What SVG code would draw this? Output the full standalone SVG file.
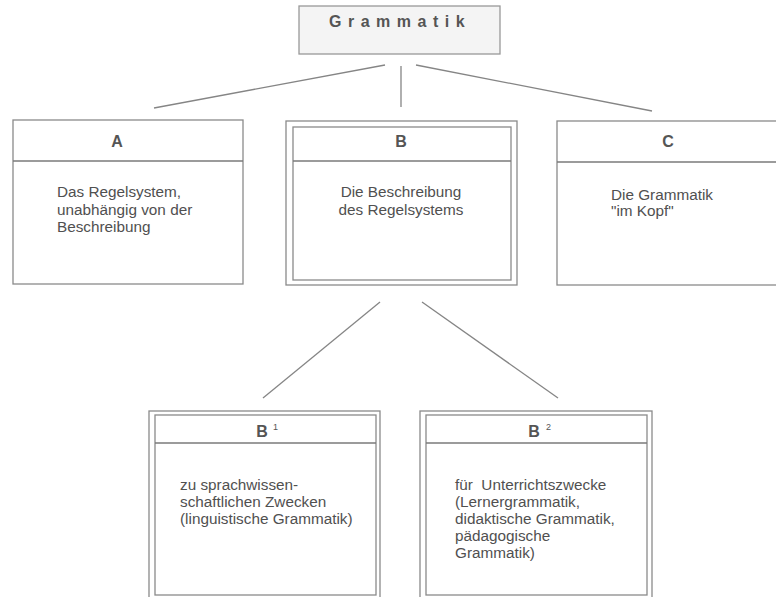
<svg xmlns="http://www.w3.org/2000/svg" width="776" height="597" viewBox="0 0 776 597">
<style>
.box{fill:none;stroke:#8a8a8a;stroke-width:1.3}
.div{stroke:#7a7a7a;stroke-width:1.3}
.con{stroke:#858585;stroke-width:1.3;fill:none}
.hd{font-family:"Liberation Sans",Arial,sans-serif;font-size:16px;font-weight:bold;fill:#555;text-anchor:middle}
.sup{font-family:"Liberation Sans",Arial,sans-serif;font-size:9px;fill:#555}
.tx{font-family:"Liberation Sans",Arial,sans-serif;font-size:15.3px;fill:#505050}
</style>
<rect width="776" height="597" fill="#ffffff"/>
<g id="connectors">
<line class="con" x1="385" y1="65" x2="154" y2="108"/>
<line class="con" x1="401" y1="66" x2="401" y2="107"/>
<line class="con" x1="416" y1="65" x2="652" y2="111"/>
<line class="con" x1="380" y1="302" x2="263" y2="398"/>
<line class="con" x1="422" y1="302" x2="558" y2="398"/>
</g>
<g id="grammatik">
<rect x="299" y="6" width="201" height="48" fill="#f4f4f4" stroke="#999" stroke-width="1.3"/>
<text x="329" y="27" font-family="'Liberation Sans',Arial,sans-serif" font-size="16" font-weight="bold" fill="#555" letter-spacing="6.5">Grammatik</text>
</g>
<g id="nodeA">
<rect class="box" x="13" y="120" width="230" height="164"/>
<line class="div" x1="13" y1="161" x2="243" y2="161"/>
<text class="hd" x="117" y="147">A</text>
<text class="tx" x="57" y="197">Das Regelsystem,</text>
<text class="tx" x="57" y="214.5">unabhängig von der</text>
<text class="tx" x="57" y="232">Beschreibung</text>
</g>
<g id="nodeB">
<rect class="box" x="286" y="121" width="231" height="164"/>
<rect class="box" x="293" y="127" width="218" height="153"/>
<line class="div" x1="293" y1="161" x2="511" y2="161"/>
<text class="hd" x="401" y="147">B</text>
<text class="tx" x="401" y="197" text-anchor="middle">Die Beschreibung</text>
<text class="tx" x="401" y="214.5" text-anchor="middle">des Regelsystems</text>
</g>
<g id="nodeC">
<rect class="box" x="557" y="121" width="240" height="164"/>
<line class="div" x1="557" y1="162" x2="797" y2="162"/>
<text class="hd" x="668" y="147">C</text>
<text class="tx" x="611" y="200">Die Grammatik</text>
<text class="tx" x="611" y="216">"im Kopf"</text>
</g>
<g id="nodeB1">
<rect class="box" x="149" y="411" width="231" height="189"/>
<rect class="box" x="155" y="415" width="221" height="180"/>
<line class="div" x1="155" y1="443" x2="376" y2="443"/>
<text class="hd" x="262" y="437">B</text>
<text class="sup" x="273" y="430">1</text>
<text class="tx" x="180" y="490">zu sprachwissen-</text>
<text class="tx" x="180" y="507">schaftlichen Zwecken</text>
<text class="tx" x="180" y="524">(linguistische Grammatik)</text>
</g>
<g id="nodeB2">
<rect class="box" x="420" y="411" width="232" height="189"/>
<rect class="box" x="426" y="415" width="221" height="180"/>
<line class="div" x1="426" y1="443" x2="647" y2="443"/>
<text class="hd" x="534" y="437">B</text>
<text class="sup" x="546" y="430">2</text>
<text class="tx" x="455" y="490" xml:space="preserve">für  Unterrichtszwecke</text>
<text class="tx" x="455" y="507">(Lernergrammatik,</text>
<text class="tx" x="455" y="524">didaktische Grammatik,</text>
<text class="tx" x="455" y="541">pädagogische</text>
<text class="tx" x="455" y="558">Grammatik)</text>
</g>
</svg>
